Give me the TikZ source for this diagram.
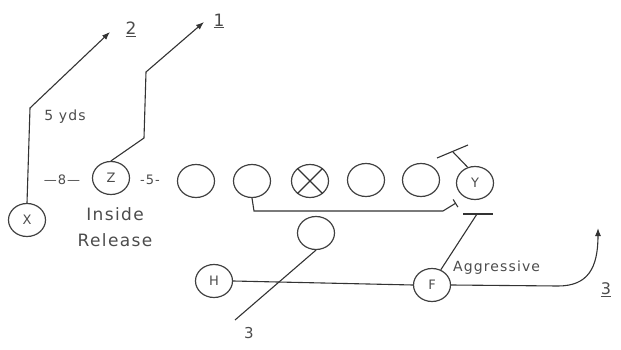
\documentclass[tikz,border=0pt]{standalone}
\usepackage{fontspec}
\setmainfont{DejaVu Sans}[LetterSpace=8]
\usetikzlibrary{shapes.geometric,arrows.meta}

\begin{document}
\begin{tikzpicture}[x=1pt, y=-1pt,
    player/.style={draw=black!75, line width=1.2pt, ellipse, minimum width=37pt,
      minimum height=33pt, inner sep=0pt, text=black!70, font=\fontsize{13}{13}\selectfont},
    route/.style={draw=black!80, line width=1.1pt},
    lbl/.style={font=\fontsize{13}{13}\selectfont, text=black!70, inner sep=1pt},
    tip/.style={-{Latex[length=8pt,width=6pt]}}]
  \useasboundingbox (0,0) rectangle (621,350);

  % offense
  \node[player] (X) at (27,220) {X};
  \node[player] (Z) at (111,178) {Z};
  \node[player] (lt) at (196,181) {};
  \node[player] (lg) at (252,181) {};
  \node[player] (c)  at (310,181) {};
  \node[player] (rg) at (366,180) {};
  \node[player] (rt) at (421,180) {};
  \node[player] (Y) at (475,183) {Y};
  \node[player] (lb) at (316,233) {};
  \node[player] (H) at (214,281) {H};
  \node[player] (F) at (432,285) {F};
  \draw[route, line width=1.2pt] (c.45) -- (c.225);
  \draw[route, line width=1.2pt] (c.135) -- (c.315);

  % splits
  \node[lbl] (split8) at (62,180) {—8—};
  \node[lbl] (split5) at (150,180) {-5-};
  \node[lbl, align=center, font=\fontsize{17}{26}\selectfont] (inside) at (115,227) {Inside\\Release};

  % X route
  \coordinate (xbrk) at (30,108);
  \coordinate (xend) at (110,32);
  \draw[route, tip] (X.north) -- (xbrk) -- (xend);
  \node[lbl, font=\fontsize{14}{14}\selectfont] (yds) at (65,117) {5 yds};
  \node[lbl, font=\fontsize{17}{17}\selectfont] (two) at (131,29) {\underline{2}};

  % Z route
  \coordinate (zb1) at (144,138);
  \coordinate (zb2) at (146,72);
  \coordinate (zend) at (204,22);
  \draw[route, tip] (Z.north) -- (zb1) -- (zb2) -- (zend);
  \node[lbl, font=\fontsize{17}{17}\selectfont] (one) at (219,21) {\underline{1}};

  % Y block
  \coordinate (yblk) at (453,152);
  \draw[route] (Y.115) -- (yblk);
  \draw[route] (yblk) ++(-16,6) -- ++(31,-13);

  % guard pull
  \coordinate (gp1) at (254,211);
  \coordinate (gp2) at (443,211);
  \coordinate (gp3) at (456,203);
  \draw[route, -{Bar[width=9pt]}] (lg.south) -- (gp1) -- (gp2) -- (gp3);

  % F block
  \coordinate (fblk) at (477,214);
  \draw[route] (F.60) -- (fblk);
  \draw[route] (fblk) ++(-14,0) -- ++(30,0);
  \node[lbl, anchor=west, font=\fontsize{14}{14}\selectfont] (aggr) at (452,268) {Aggressive};

  % backfield
  \coordinate (lbend) at (235,320);
  \draw[route] (lb.south) -- (lbend);
  \node[lbl, font=\fontsize{15}{15}\selectfont] (three) at (249,333) {3};
  \draw[route] (H.east) -- (F.west);
  \coordinate (fend) at (598,228);
  \draw[route, tip] (F.east) -- (558,286) .. controls (588,286) and (598,268) .. (fend);
  \node[lbl, font=\fontsize{16}{16}\selectfont] (threeu) at (606,290) {\underline{3}};
\end{tikzpicture}
\end{document}
